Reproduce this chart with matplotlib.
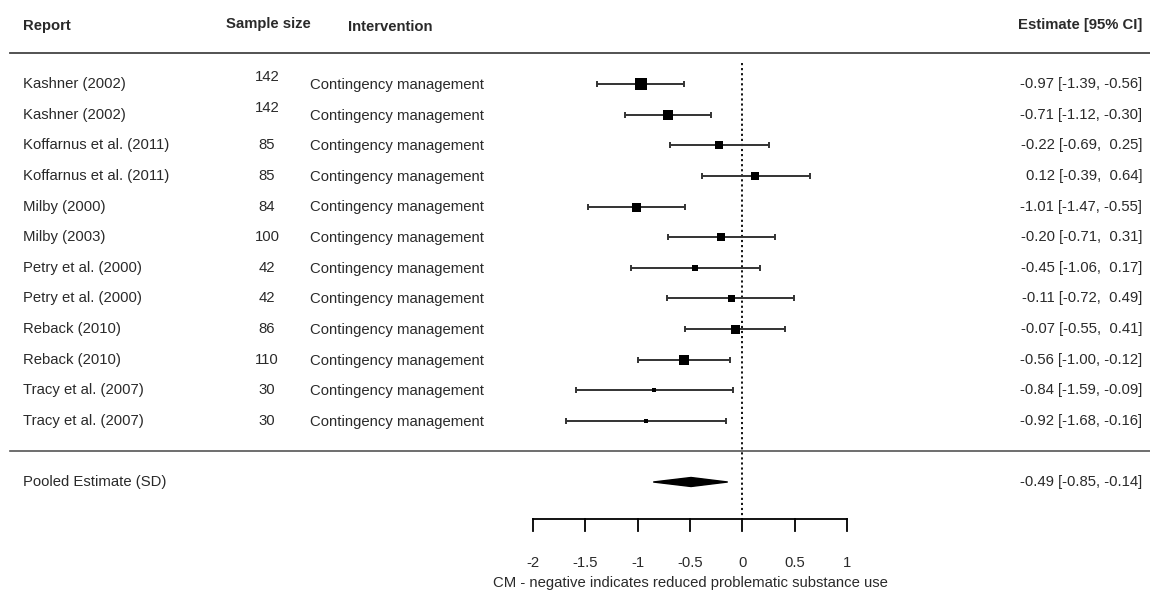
"""
Forest plot: contingency management effect sizes with pooled estimate.
"""

import matplotlib

matplotlib.use("Agg")
import matplotlib.pyplot as plt
import matplotlib.transforms as mtransforms
from matplotlib.patches import Polygon

plt.rcParams["font.family"] = ["Liberation Sans", "DejaVu Sans"]

reports = [
    "Kashner (2002)", "Kashner (2002)",
    "Koffarnus et al. (2011)", "Koffarnus et al. (2011)",
    "Milby (2000)", "Milby (2003)",
    "Petry et al. (2000)", "Petry et al. (2000)",
    "Reback (2010)", "Reback (2010)",
    "Tracy et al. (2007)", "Tracy et al. (2007)",
]
sample_sizes = [142, 142, 85, 85, 84, 100, 42, 42, 86, 110, 30, 30]
interventions = ["Contingency management"] * 12
estimates = [-0.97, -0.71, -0.22, 0.12, -1.01, -0.20, -0.45, -0.11, -0.07, -0.56, -0.84, -0.92]
ci_low = [-1.39, -1.12, -0.69, -0.39, -1.47, -0.71, -1.06, -0.72, -0.55, -1.00, -1.59, -1.68]
ci_high = [-0.56, -0.30, 0.25, 0.64, -0.55, 0.31, 0.17, 0.49, 0.41, -0.12, -0.09, -0.16]
# relative study weights
weights = [11.5, 10, 8, 8, 9, 8, 6, 7, 9, 10.5, 3.5, 3.5]

pooled_label = "Pooled Estimate (SD)"
pooled_est, pooled_low, pooled_high = -0.49, -0.85, -0.14

x_ticks = [-2, -1.5, -1, -0.5, 0, 0.5, 1]
x_label = "CM - negative indicates reduced problematic substance use"

TXT = "#2a2a2a"
FS = 10.7

# pixel geometry of the reference (1150 x 597)
W, H = 1150, 597
X0_PX, UNIT_PX = 742.4, 104.87
ROW0_PX, ROW_PX = 84.0, 30.64


def fx(px):
    return px / W


def ypx(px):
    return 1 + (px - ROW0_PX) / ROW_PX


fig = plt.figure(figsize=(11.5, 5.97), dpi=100)
ax = fig.add_axes([0, 0, 1, 1])
ax.axis("off")
ax.set_xlim((0 - X0_PX) / UNIT_PX, (W - X0_PX) / UNIT_PX)
ax.set_ylim(ypx(H), ypx(0))

trans = mtransforms.blended_transform_factory(ax.transAxes, ax.transData)

# headers
ax.text(fx(23), ypx(26), "Report", transform=trans, ha="left", va="center",
        fontsize=FS, fontweight="bold", color=TXT)
ax.text(fx(226), ypx(24), "Sample size", transform=trans, ha="left", va="center",
        fontsize=FS, fontweight="bold", color=TXT)
ax.text(fx(348), ypx(27), "Intervention", transform=trans, ha="left", va="center",
        fontsize=FS, fontweight="bold", color=TXT)
ax.text(fx(1142), ypx(25), "Estimate [95% CI]", transform=trans, ha="right", va="center",
        fontsize=FS, fontweight="bold", color=TXT)

ax.plot([fx(10), 1], [ypx(52.5)] * 2, transform=trans, color="#444444", lw=1.3)
ax.plot([fx(10), 1], [ypx(451)] * 2, transform=trans, color="#555555", lw=1.2)

# reference line at zero
ax.plot([0, 0], [ypx(63), ypx(519)], color="black", lw=1.3, ls=(0, (1.2, 1.6)))

rows = list(range(1, len(reports) + 1))
for y, rep, n, itv, est, lo, hi, w in zip(rows, reports, sample_sizes, interventions,
                                         estimates, ci_low, ci_high, weights):
    ax.text(fx(23), y, rep, transform=trans, ha="left", va="center", fontsize=FS, color=TXT)
    dy = -0.23 if n == 142 else 0
    ax.text(fx(267), y + dy, str(n), transform=trans, ha="center", va="center",
            fontsize=FS, color=TXT)
    ax.text(fx(310), y + 0.03, itv, transform=trans, ha="left", va="center",
            fontsize=FS, color=TXT)
    ax.text(fx(1142), y, f"{est:.2f} [{lo:.2f}, {hi:5.2f}]",
            transform=trans, ha="right", va="center", fontsize=FS, color=TXT)
    ax.plot([lo, hi], [y, y], color="#333333", lw=1.4, solid_capstyle="butt")
    ax.plot([lo, hi], [y, y], ls="none", marker="|", ms=4.5, mew=1.4, color="#333333")
    ax.plot(est, y, marker="s", ms=w * 0.72, color="black", mec="black", mew=0)

# pooled estimate
yp = ypx(482)
ax.text(fx(23), yp, pooled_label, transform=trans, ha="left", va="center",
        fontsize=FS, color=TXT)
ax.text(fx(1142), yp, f"{pooled_est:.2f} [{pooled_low:.2f}, {pooled_high:.2f}]",
        transform=trans, ha="right", va="center", fontsize=FS, color=TXT)
h = 4.5 / ROW_PX
ax.add_patch(Polygon([(pooled_low, yp), (pooled_est, yp - h), (pooled_high, yp),
                      (pooled_est, yp + h)], closed=True, color="black"))

# x axis
ya = ypx(519)
ax.plot([x_ticks[0], x_ticks[-1]], [ya, ya], color="black", lw=1.3)
for t in x_ticks:
    ax.plot([t, t], [ya, ypx(531)], color="black", lw=1.3)
    ax.text(t, ypx(563), f"{t:g}", ha="center", va="center", fontsize=FS, color=TXT)
ax.text((x_ticks[0] + x_ticks[-1]) / 2, ypx(583), x_label, ha="center", va="center",
        fontsize=FS, color=TXT)

fig.savefig("out.png", dpi=100)
